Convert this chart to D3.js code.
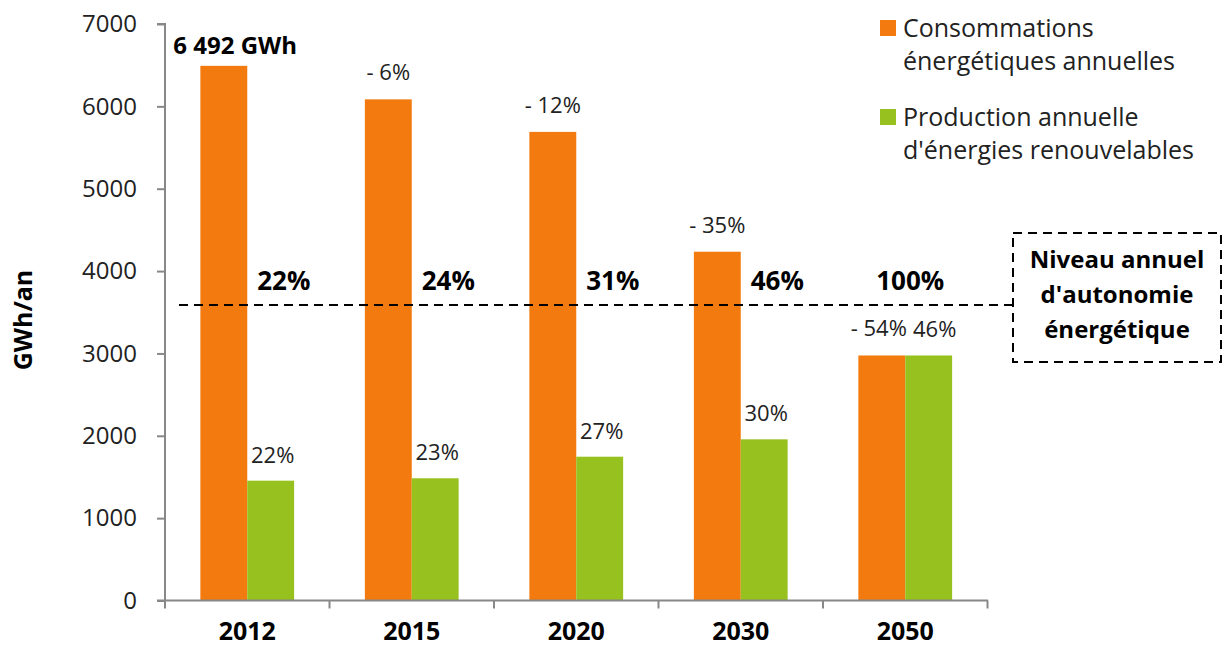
<!DOCTYPE html>
<html>
<head>
<meta charset="utf-8">
<script src="https://cdn.jsdelivr.net/npm/d3@7"></script>
<style>
  body { margin: 0; background: #fff; }
  svg { font-family: "Open Sans", sans-serif; }
</style>
</head>
<body>
<div id="chart"></div>
<script>
// data
const years = ["2012", "2015", "2020", "2030", "2050"];
const consommation = [6492, 6085, 5690, 4235, 2975];   // GWh/an
const production = [1455, 1484, 1746, 1957, 2975];      // GWh/an
const consoLabels = ["6 492 GWh", "- 6%", "- 12%", "- 35%", "- 54%"];
const prodLabels = ["22%", "23%", "27%", "30%", "46%"];
const autonomie = ["22%", "24%", "31%", "46%", "100%"];
const niveauAutonomie = 3588;
const yTicks = [0, 1000, 2000, 3000, 4000, 5000, 6000, 7000];
const legendItems = [
  { color: "#F27A0E", lines: ["Consommations", "énergétiques annuelles"] },
  { color: "#97C11F", lines: ["Production annuelle", "d'énergies renouvelables"] }
];
const boxLines = ["Niveau annuel", "d'autonomie", "énergétique"];

const width = 1226, height = 649;
const orange = "#F27A0E", green = "#97C11F";
const last = years.length - 1;

const svg = d3.select("#chart").append("svg")
  .attr("width", width)
  .attr("height", height);

const y = d3.scaleLinear().domain([0, 7000]).range([600.5, 24]);
const x = d3.scaleBand().domain(years).range([165, 987.5])
  .paddingInner(0.43).paddingOuter(0.215);
const bw = x.bandwidth() / 2;
const step = x.step();

// bars
const groups = svg.selectAll(".grp")
  .data(years)
  .join("g")
  .attr("class", "grp");

groups.append("rect")
  .attr("x", d => x(d))
  .attr("y", (d, i) => y(consommation[i]))
  .attr("width", bw)
  .attr("height", (d, i) => y(0) - y(consommation[i]))
  .attr("fill", orange);

groups.append("rect")
  .attr("x", d => x(d) + bw)
  .attr("y", (d, i) => y(production[i]))
  .attr("width", bw)
  .attr("height", (d, i) => y(0) - y(production[i]))
  .attr("fill", green);

// value labels
groups.append("text")
  .attr("x", (d, i) => i === 0 ? x(d) - 27 : x(d) + bw / 2 - (i === last ? 3 : 0))
  .attr("y", (d, i) => y(consommation[i]) - (i === 0 ? 12 : 19))
  .attr("text-anchor", (d, i) => i === 0 ? "start" : "middle")
  .attr("font-size", (d, i) => i === 0 ? 24 : 22)
  .attr("font-weight", (d, i) => i === 0 ? "bold" : "normal")
  .attr("fill", (d, i) => i === 0 ? "#000" : "#222")
  .text((d, i) => consoLabels[i]);

groups.append("text")
  .attr("x", (d, i) => x(d) + bw * 1.5 + (i === last ? 6 : 2))
  .attr("y", (d, i) => y(production[i]) - 18)
  .attr("text-anchor", "middle")
  .attr("font-size", 22)
  .attr("fill", "#222")
  .text((d, i) => prodLabels[i]);

// autonomy level line + labels
svg.append("line")
  .attr("x1", 179).attr("x2", 1013)
  .attr("y1", y(niveauAutonomie)).attr("y2", y(niveauAutonomie))
  .attr("stroke", "#000")
  .attr("stroke-width", 2)
  .attr("stroke-dasharray", "9,6");

groups.append("text")
  .attr("x", (d, i) => i === last ? x(d) + bw + 5 : x(d) + bw + 10)
  .attr("y", y(niveauAutonomie) - 15)
  .attr("text-anchor", (d, i) => i === last ? "middle" : "start")
  .attr("font-size", 26)
  .attr("font-weight", "bold")
  .attr("fill", "#000")
  .text((d, i) => autonomie[i]);

// y axis
const yAxis = svg.append("g")
  .attr("transform", "translate(165,0)")
  .call(d3.axisLeft(y).tickValues(yTicks).tickSize(8).tickPadding(20).tickFormat(d3.format("d")));
yAxis.select(".domain").attr("stroke", "#888").attr("stroke-width", 2)
  .attr("d", `M-8,${y(7000)}H0V${y(0) + 8}`);
yAxis.selectAll(".tick line").attr("stroke", "#888").attr("stroke-width", 2);
yAxis.selectAll(".tick text")
  .attr("font-size", 24)
  .attr("font-family", "Open Sans, sans-serif")
  .attr("fill", "#222");

// x axis
svg.append("line")
  .attr("x1", 157).attr("x2", 988)
  .attr("y1", y(0)).attr("y2", y(0))
  .attr("stroke", "#888").attr("stroke-width", 2);
svg.selectAll(".xtick")
  .data(years)
  .join("line")
  .attr("class", "xtick")
  .attr("x1", d => x(d) + x.bandwidth() + (step - x.bandwidth()) / 2)
  .attr("x2", d => x(d) + x.bandwidth() + (step - x.bandwidth()) / 2)
  .attr("y1", y(0)).attr("y2", y(0) + 8)
  .attr("stroke", "#888").attr("stroke-width", 2);
svg.selectAll(".xlabel")
  .data(years)
  .join("text")
  .attr("class", "xlabel")
  .attr("x", d => x(d) + x.bandwidth() / 2)
  .attr("y", 640)
  .attr("text-anchor", "middle")
  .attr("font-size", 25)
  .attr("font-weight", "bold")
  .attr("fill", "#000")
  .text(d => d);

// y title
svg.append("text")
  .attr("transform", "translate(32,320) rotate(-90)")
  .attr("text-anchor", "middle")
  .attr("font-size", 25)
  .attr("font-weight", "bold")
  .text("GWh/an");

// legend
const legend = svg.selectAll(".legend")
  .data(legendItems)
  .join("g")
  .attr("class", "legend")
  .attr("transform", (d, i) => `translate(880,${20 + i * 89})`);
legend.append("rect")
  .attr("width", 16).attr("height", 16)
  .attr("fill", d => d.color);
legend.selectAll("text")
  .data(d => d.lines)
  .join("text")
  .attr("x", 23)
  .attr("y", (d, i) => 17 + i * 33)
  .attr("font-size", 25)
  .attr("fill", "#222")
  .text(d => d);

// dashed box
svg.append("rect")
  .attr("x", 1013).attr("y", 233)
  .attr("width", 208).attr("height", 129)
  .attr("fill", "none")
  .attr("stroke", "#000")
  .attr("stroke-width", 2)
  .attr("stroke-dasharray", "9,6");
svg.selectAll(".boxtxt")
  .data(boxLines)
  .join("text")
  .attr("class", "boxtxt")
  .attr("x", 1117)
  .attr("y", (d, i) => 268 + i * 35)
  .attr("text-anchor", "middle")
  .attr("font-size", 24)
  .attr("font-weight", "bold")
  .text(d => d);
</script>
</body>
</html>
